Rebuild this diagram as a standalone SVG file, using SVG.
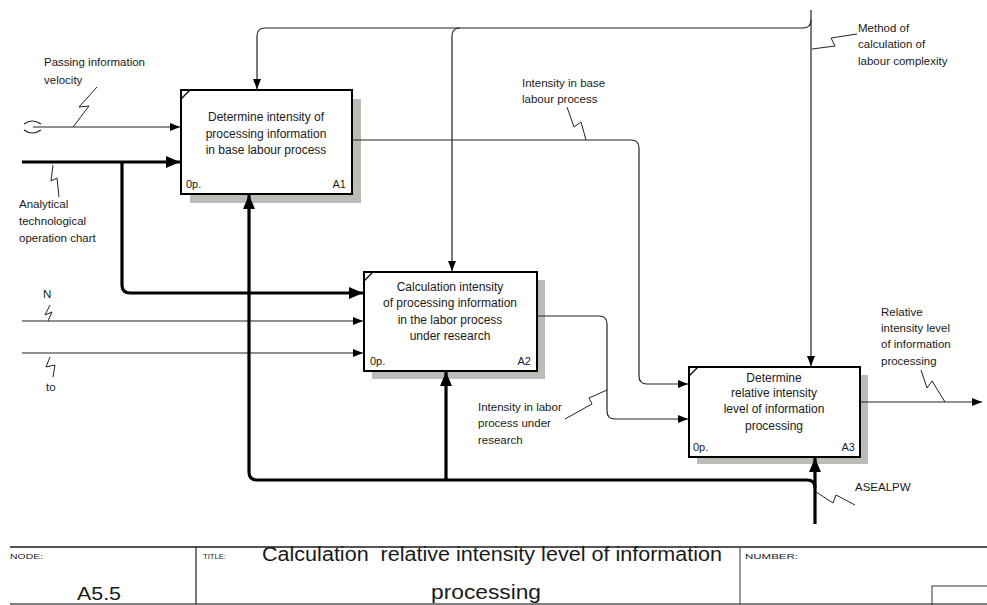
<svg xmlns="http://www.w3.org/2000/svg" width="987" height="605" viewBox="0 0 987 605">
<defs>
<style>
.t{font-family:"Liberation Sans",Arial,sans-serif;font-size:11.5px;fill:#1a1a1a}
.b{font-family:"Liberation Sans",Arial,sans-serif;font-size:12px;fill:#1a1a1a;text-anchor:middle}
.s{font-family:"Liberation Sans",Arial,sans-serif;font-size:11px;fill:#1a1a1a}
.f{font-family:"Liberation Sans",Arial,sans-serif;fill:#1a1a1a}
.box{fill:#fff;stroke:#000;stroke-width:2}
.sh{fill:#b9bdb5}
.thin{fill:none;stroke:#222;stroke-width:1.2}
.thick{fill:none;stroke:#000;stroke-width:3.2}
.zz{fill:none;stroke:#222;stroke-width:1}
</style>
<marker id="ah" markerUnits="userSpaceOnUse" markerWidth="11" markerHeight="9" refX="10" refY="4" orient="auto"><path d="M0,0 L10,4 L0,8 z" fill="#000"/></marker>
<marker id="ahk" markerUnits="userSpaceOnUse" markerWidth="15" markerHeight="13" refX="14" refY="6" orient="auto"><path d="M0,0 L14,6 L0,12 z" fill="#000"/></marker>
</defs>
<rect width="987" height="605" fill="#fff"/>

<g id="A1">
<rect class="sh" x="190" y="99" width="171" height="104"/>
<rect class="box" x="181" y="90" width="171" height="104"/>
<line x1="181" y1="99" x2="190" y2="90" stroke="#000" stroke-width="1.2"/>
<text class="b" x="266" y="121">Determine intensity of</text>
<text class="b" x="266" y="138">processing information</text>
<text class="b" x="266" y="154">in base labour process</text>
<text class="s" x="186" y="188">0p.</text>
<text class="s" x="346" y="188" text-anchor="end">A1</text>
</g>

<g id="A2">
<rect class="sh" x="372" y="280" width="173" height="99"/>
<rect class="box" x="364" y="272" width="173" height="99"/>
<line x1="364" y1="281" x2="373" y2="272" stroke="#000" stroke-width="1.2"/>
<text class="b" x="450" y="291">Calculation intensity</text>
<text class="b" x="450" y="307">of processing information</text>
<text class="b" x="450" y="324">in the labor process</text>
<text class="b" x="450" y="340">under research</text>
<text class="s" x="370" y="365">0p.</text>
<text class="s" x="531" y="365" text-anchor="end">A2</text>
</g>

<g id="A3">
<rect class="sh" x="697" y="375" width="171" height="89"/>
<rect class="box" x="689" y="367" width="171" height="90"/>
<line x1="689" y1="376" x2="698" y2="367" stroke="#000" stroke-width="1.2"/>
<text class="b" x="774" y="382">Determine</text>
<text class="b" x="774" y="397">relative intensity</text>
<text class="b" x="774" y="413">level of information</text>
<text class="b" x="774" y="430">processing</text>
<text class="s" x="693" y="451">0p.</text>
<text class="s" x="855" y="451" text-anchor="end">A3</text>
</g>

<g id="connectors">
<!-- controls -->
<path class="thin" d="M811,10 L811,366" marker-end="url(#ah)"/>
<path class="thin" d="M811,20 Q811,28 803,28 L265,28 Q257,28 257,36 L257,89" marker-end="url(#ah)"/>
<path class="thin" d="M460,28 Q452,28 452,36 L452,271" marker-end="url(#ah)"/>
<!-- inputs A1 -->
<path class="thin" d="M33,127 L180,127" marker-end="url(#ah)"/>
<path d="M24,124 Q32,118 41,124 M24,130 Q32,136 41,130" fill="none" stroke="#222" stroke-width="1.2"/>
<path class="thick" d="M22,162 L180,162" marker-end="url(#ahk)"/>
<path class="thick" d="M122,162 L122,285 Q122,293 130,293 L363,293" marker-end="url(#ahk)"/>
<!-- inputs A2 -->
<path class="thin" d="M22,321 L363,321" marker-end="url(#ah)"/>
<path class="thin" d="M22,353 L363,353" marker-end="url(#ah)"/>
<!-- A1 output to A3 -->
<path class="thin" d="M352,140 L631,140 Q639,140 639,148 L639,376 Q639,384 647,384 L688,384" marker-end="url(#ah)"/>
<!-- A2 output to A3 -->
<path class="thin" d="M537,316 L599,316 Q607,316 607,324 L607,411 Q607,419 615,419 L688,419" marker-end="url(#ah)"/>
<!-- A3 output -->
<path class="thin" d="M860,402 L982,402" marker-end="url(#ah)"/>
<!-- mechanisms -->
<path class="thick" d="M815,524 L815,458" marker-end="url(#ahk)"/>
<path class="thick" d="M815,488 Q815,480 807,480 L257,480 Q249,480 249,472 L249,195" marker-end="url(#ahk)"/>
<path class="thick" d="M446,480 L446,372" marker-end="url(#ahk)"/>
<!-- squiggles -->
<path class="zz" d="M97,87 L79,107 L89,106 L73,127"/>
<path class="zz" d="M53,165 L51,181 L57,178 L59,197"/>
<path class="zz" d="M50,305 L45,315 L52,312 L48,321"/>
<path class="zz" d="M50,357 L46,367 L55,365 L53,377"/>
<path class="zz" d="M586,140 L581,122 L574,127 L567,107"/>
<path class="zz" d="M812,49 L835,46 L831,38 L857,34"/>
<path class="zz" d="M607,390 L589,398 L592,404 L565,419"/>
<path class="zz" d="M921,370 L927,388 L932,381 L945,402"/>
<path class="zz" d="M816,492 L833,503 L836,495 L855,505"/>
</g>

<g id="labels">
<text class="t" x="44" y="66">Passing information</text>
<text class="t" x="44" y="84">velocity</text>
<text class="t" x="19" y="208">Analytical</text>
<text class="t" x="19" y="225">technological</text>
<text class="t" x="19" y="242">operation chart</text>
<text class="t" x="43" y="298">N</text>
<text class="t" x="46" y="391">to</text>
<text class="t" x="522" y="87">Intensity in base</text>
<text class="t" x="522" y="103">labour process</text>
<text class="t" x="858" y="32">Method of</text>
<text class="t" x="858" y="48">calculation of</text>
<text class="t" x="858" y="65">labour complexity</text>
<text class="t" x="478" y="411">Intensity in labor</text>
<text class="t" x="478" y="427">process under</text>
<text class="t" x="478" y="444">research</text>
<text class="t" x="881" y="316">Relative</text>
<text class="t" x="881" y="332">intensity level</text>
<text class="t" x="881" y="348">of information</text>
<text class="t" x="881" y="365">processing</text>
<text class="t" x="855" y="491">ASEALPW</text>
</g>

<g id="footer">
<line x1="10" y1="547" x2="987" y2="547" stroke="#555" stroke-width="2"/>
<line x1="10" y1="604" x2="987" y2="604" stroke="#555" stroke-width="1.5"/>
<line x1="196" y1="547" x2="196" y2="604" stroke="#222" stroke-width="1.2"/>
<line x1="740" y1="547" x2="740" y2="604" stroke="#555" stroke-width="1.2"/>
<rect x="932" y="586" width="60" height="20" fill="none" stroke="#333" stroke-width="1"/>
<text class="f" x="10" y="559" font-size="8" textLength="33" lengthAdjust="spacingAndGlyphs">NODE:</text>
<text class="f" x="203" y="559" font-size="8" textLength="23" lengthAdjust="spacingAndGlyphs">TITLE:</text>
<text class="f" x="745" y="559" font-size="8" textLength="53" lengthAdjust="spacingAndGlyphs">NUMBER:</text>
<text class="f" x="77" y="600" font-size="18" textLength="44" lengthAdjust="spacingAndGlyphs">A5.5</text>
<text class="f" x="262" y="561" font-size="20" textLength="460" lengthAdjust="spacingAndGlyphs" xml:space="preserve">Calculation  relative intensity level of information</text>
<text class="f" x="431" y="599" font-size="20" textLength="110" lengthAdjust="spacingAndGlyphs">processing</text>
</g>
</svg>
